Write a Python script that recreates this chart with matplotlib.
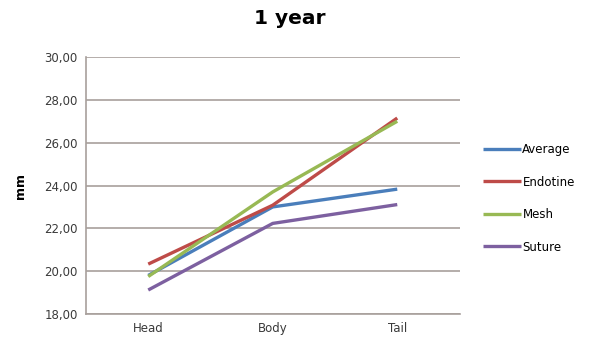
import matplotlib.pyplot as plt
import numpy as np

# measurements at one year, per region
regions = ["Head", "Body", "Tail"]
average = [19.80, 23.00, 23.83]
endotine = [20.33, 23.08, 27.15]
mesh = [19.75, 23.70, 27.00]
suture = [19.12, 22.23, 23.11]

series = [("Average", average, "#4a7ebb"),
          ("Endotine", endotine, "#be4b48"),
          ("Mesh", mesh, "#98b954"),
          ("Suture", suture, "#7d60a0")]

fig = plt.figure(figsize=(5.91, 3.42), dpi=100)
ax = fig.add_axes([0.1455, 0.0819, 0.632, 0.7514])

x = np.arange(len(regions))
for name, vals, col in series:
    ax.plot(x, vals, color=col, linewidth=2.4, label=name, solid_capstyle="butt")

ax.set_xlim(-0.5, 2.5)
ax.set_ylim(18, 30)
ax.set_yticks(np.arange(18, 31, 2))
ax.set_yticklabels(["{:.2f}".format(v).replace(".", ",") for v in np.arange(18, 31, 2)])
ax.set_xticks(x)
ax.set_xticklabels(regions)
ax.tick_params(length=0, labelsize=8.5, colors="#3a3a3a", pad=6)
ax.grid(axis="y", color="#a8a09c", linewidth=1.2)
ax.set_axisbelow(True)
for s in ["top", "right"]:
    ax.spines[s].set_visible(False)
ax.spines["left"].set_color("#a8a09c")
ax.spines["bottom"].set_color("#a8a09c")
ax.spines["left"].set_linewidth(1.2)
ax.spines["bottom"].set_linewidth(1.2)

ax.set_ylabel("mm", fontsize=9, fontweight="bold", labelpad=12)
fig.suptitle("1 year", fontsize=14.5, fontweight="bold", x=0.49, y=0.975)

fig.legend(loc="center left", bbox_to_anchor=(0.80, 0.42), frameon=False,
           fontsize=8.5, handlelength=3.2, handletextpad=0.1, labelspacing=1.65)

fig.savefig("out.png")
